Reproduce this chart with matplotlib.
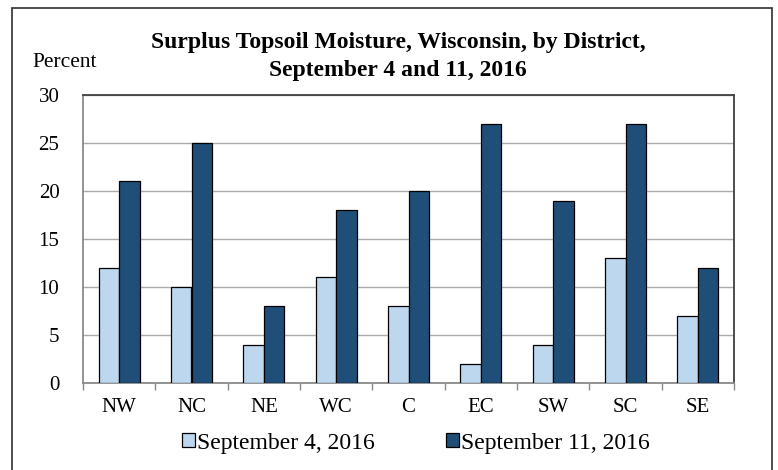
import matplotlib
matplotlib.use("Agg")
import matplotlib.pyplot as plt
from matplotlib.patches import Rectangle
import numpy as np

districts = ["NW", "NC", "NE", "WC", "C", "EC", "SW", "SC", "SE"]
sep4 = [12, 10, 4, 11, 8, 2, 4, 13, 7]
sep11 = [21, 25, 8, 18, 20, 27, 19, 27, 12]
yticks = [0, 5, 10, 15, 20, 25, 30]

W, H = 778, 470
plt.rcParams["font.family"] = ["Liberation Serif", "DejaVu Serif"]
fig = plt.figure(figsize=(W / 100, H / 100), dpi=100)

def fx(x):
    return x / W

def fy(y):
    return 1 - y / H

# outer border
fig.patches.append(Rectangle((fx(12), fy(480)), fx(772) - fx(12), fy(8) - fy(480),
                             transform=fig.transFigure, fill=False,
                             edgecolor="#303030", linewidth=1.2))

left, right, top, bottom = 83, 734, 95, 383
ax = fig.add_axes([fx(left), fy(bottom), fx(right) - fx(left), fy(top) - fy(bottom)])

x = np.arange(len(districts))
bw = 0.285
ax.bar(x - bw / 2, sep4, bw, color="#BDD7EE", edgecolor="black", linewidth=0.9,
       label="September 4, 2016", zorder=3)
ax.bar(x + bw / 2, sep11, bw, color="#1F4E79", edgecolor="black", linewidth=0.9,
       label="September 11, 2016", zorder=3)

ax.set_xlim(-0.5, len(districts) - 0.5)
ax.set_ylim(0, 30)
ax.set_yticks(yticks)
ax.set_yticklabels([str(v) for v in yticks], fontsize=15)
ax.yaxis.grid(True, color="#ababab", linewidth=1.0, zorder=0)
ax.set_axisbelow(True)
ax.tick_params(axis="y", length=0, pad=17)

ax.set_xticks(x)
ax.set_xticklabels(districts, fontsize=15)
ax.set_xticks(np.arange(len(districts) + 1) - 0.5, minor=True)
ax.tick_params(axis="x", which="major", length=0, pad=11)
ax.tick_params(axis="x", which="minor", length=5, color="#8a8a8a", width=1)

for s in ["top", "right"]:
    ax.spines[s].set_color("#404040")
    ax.spines[s].set_linewidth(1.3)
for s in ["left", "bottom"]:
    ax.spines[s].set_color("#8a8a8a")
    ax.spines[s].set_linewidth(1.3)

fig.text(fx(398), fy(48), "Surplus Topsoil Moisture, Wisconsin, by District,",
         ha="center", va="baseline", fontsize=17, fontweight="bold")
fig.text(fx(398), fy(76), "September 4 and 11, 2016",
         ha="center", va="baseline", fontsize=17, fontweight="bold")
fig.text(fx(65), fy(67), "Percent", ha="center", va="baseline", fontsize=15.5)

handles, labels = ax.get_legend_handles_labels()
leg = fig.legend(handles, labels, loc="center", bbox_to_anchor=(fx(416), fy(443)),
                 ncol=2, frameon=False, fontsize=17, handlelength=0.55,
                 handleheight=0.55, handletextpad=0.1, columnspacing=3.0)

fig.savefig("out.png", dpi=100)
